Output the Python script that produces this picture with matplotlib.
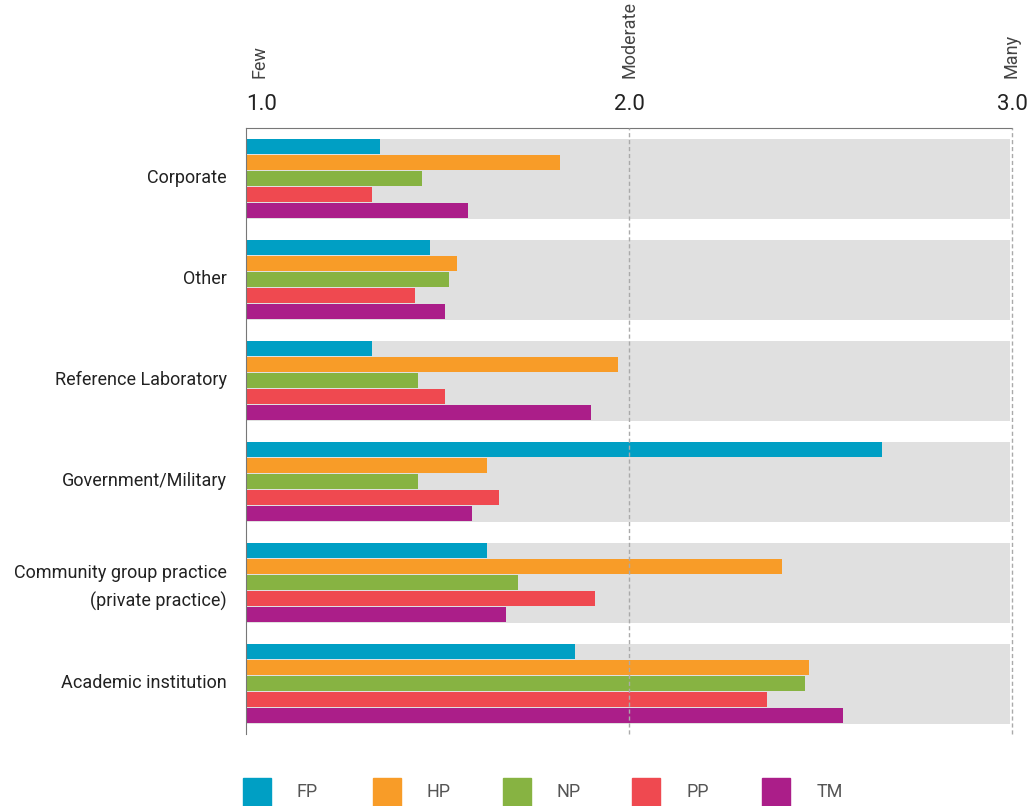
import matplotlib.pyplot as plt
from matplotlib.patches import Rectangle
import numpy as np

plt.rcParams['font.family'] = ['Roboto', 'DejaVu Sans']

categories = ['Corporate', 'Other', 'Reference Laboratory', 'Government/Military',
              'Community group practice\n(private practice)', 'Academic institution']
series = ['FP', 'HP', 'NP', 'PP', 'TM']
fp = [1.35, 1.48, 1.33, 2.66, 1.63, 1.86]
hp = [1.82, 1.55, 1.97, 1.63, 2.40, 2.47]
np_ = [1.46, 1.53, 1.45, 1.45, 1.71, 2.46]
pp = [1.33, 1.44, 1.52, 1.66, 1.91, 2.36]
tm = [1.58, 1.52, 1.90, 1.59, 1.68, 2.56]
colors = ['#009fc4', '#f89c28', '#87b342', '#ef4950', '#ab1e89']
scale_ticks = [1.0, 2.0, 3.0]
scale_words = ['Few', 'Moderate', 'Many']

W, H = 1028, 806
fig = plt.figure(figsize=(W / 100, H / 100), dpi=100)
ax = fig.add_axes([246 / W, 1 - 734 / H, 766 / W, 606 / H])

y = np.arange(len(categories))
pitch = 16 / 101
bh = 15 / 101
band = 40 / 101

# grey background bands
ax.barh(y, 2.0 - 0.005, left=1.0, height=2 * band, color='#e0e0e0', zorder=1)

for i, (vals, c) in enumerate(zip([fp, hp, np_, pp, tm], colors)):
    yy = y - band + pitch * i + bh / 2
    ax.barh(yy, np.array(vals) - 1.0, left=1.0, height=bh, color=c, zorder=2)

for xv in scale_ticks[1:]:
    ax.axvline(xv, color='#aaaaaa', lw=1, ls=(0, (3, 2)), zorder=3, clip_on=False)

ax.set_xlim(1.0, 3.0)
ax.set_ylim(5.495, -0.505)
ax.set_yticks(y - 3 / 101)
ax.set_yticklabels(categories, fontsize=13, color='#222222', linespacing=1.7)
ax.tick_params(axis='y', length=0, pad=14)
ax.set_xticks([])
for s in ['right', 'bottom']:
    ax.spines[s].set_visible(False)
ax.spines['left'].set_color('#777777')
ax.spines['top'].set_color('#777777')

# top scale labels
for xv, word in zip(scale_ticks, scale_words):
    ha = 'left' if xv == 1.0 else 'center'
    ax.text(xv, -0.505 - 13 / 101, '%.1f' % xv, ha=ha, va='bottom', fontsize=16,
            color='#222222')
    ax.text(xv + (0.035 if xv == 1.0 else 0.0), -0.505 - 50 / 101, word, rotation=90,
            ha='center', va='bottom', fontsize=13, color='#444444')

# legend
for i, (name, c) in enumerate(zip(series, colors)):
    x0 = 243 + i * 129.8
    fig.add_artist(Rectangle((x0 / W, 0), 28 / W, 28 / H, color=c,
                             transform=fig.transFigure))
    fig.text((x0 + 54) / W, 14 / H, name, ha='left', va='center', fontsize=13,
             color='#555555')

fig.savefig('out.png', dpi=100)
